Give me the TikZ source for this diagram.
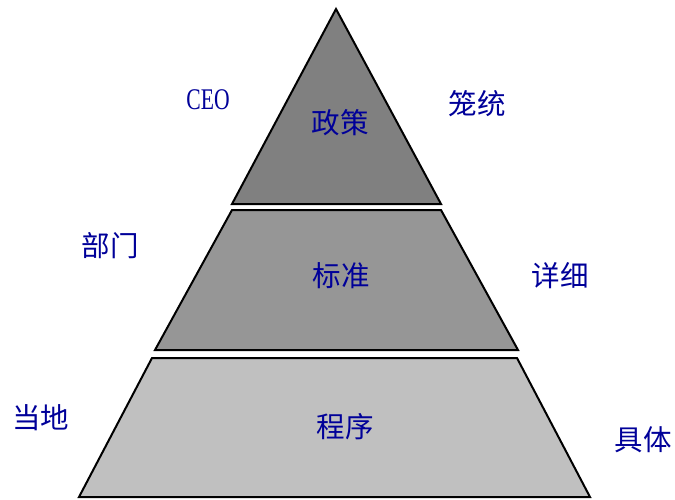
\documentclass[tikz,border=0pt]{standalone}
\usepackage{fontspec}
\setmainfont{Liberation Serif}
\newfontfamily\cjk{Noto Sans CJK SC}
\definecolor{lvtop}{HTML}{808080}
\definecolor{lvmid}{HTML}{969696}
\definecolor{lvbot}{HTML}{C0C0C0}
\definecolor{txtblue}{HTML}{000099}
\begin{document}
\begin{tikzpicture}[x=1pt,y=-1pt,
  layer/.style={draw=black,line width=2pt,line join=miter},
  lbl/.style={text=txtblue,font=\cjk\fontsize{28.5}{30}\selectfont,inner sep=0pt}]
\useasboundingbox (0,0) rectangle (675,499);
% levels
\coordinate (t1) at (336,9);
\coordinate (t2) at (441,204);
\coordinate (t3) at (232,204);
\filldraw[layer,fill=lvtop] (t1) -- (t2) -- (t3) -- cycle;
\coordinate (m1) at (232,210);
\coordinate (m2) at (441,210);
\coordinate (m3) at (518,350);
\coordinate (m4) at (155,350);
\filldraw[layer,fill=lvmid] (m1) -- (m2) -- (m3) -- (m4) -- cycle;
\coordinate (b1) at (152,358);
\coordinate (b2) at (517,358);
\coordinate (b3) at (590,497);
\coordinate (b4) at (79,497);
\filldraw[layer,fill=lvbot] (b1) -- (b2) -- (b3) -- (b4) -- cycle;
% labels
\node[lbl] (policy) at (340,123) {政策};
\node[lbl] (standard) at (341,276) {标准};
\node[lbl] (procedure) at (345,427) {程序};
\node[lbl,font=\fontsize{30}{32}\selectfont] (ceo) at (208,100) {\scalebox{0.72}[1]{CEO}};
\node[lbl] (general) at (477,104) {笼统};
\node[lbl] (dept) at (110,246) {部门};
\node[lbl] (detail) at (560,276) {详细};
\node[lbl] (local) at (41,418) {当地};
\node[lbl] (specific) at (643,440) {具体};
\end{tikzpicture}
\end{document}
